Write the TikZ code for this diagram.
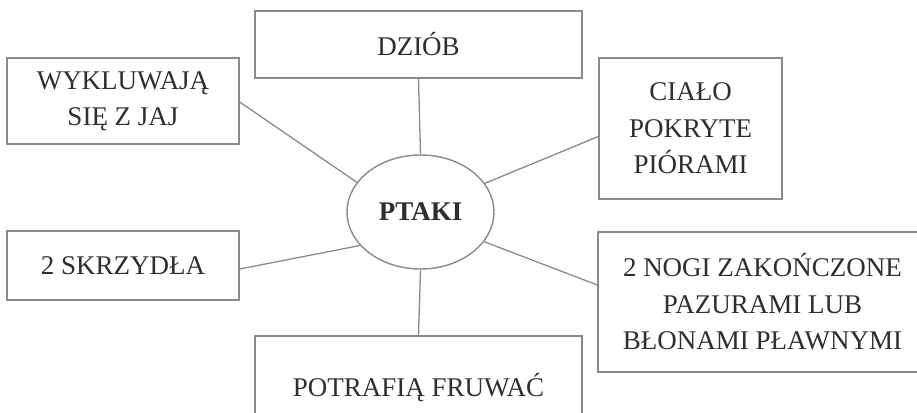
\documentclass[tikz,border=0pt]{standalone}
\usepackage{fontspec}
\setmainfont{Liberation Serif}
\usetikzlibrary{shapes.geometric}
\definecolor{linegray}{HTML}{8A8A8A}
\definecolor{textgray}{HTML}{2E2E2E}
\tikzset{
  box/.style={draw=linegray, line width=1.4pt, rectangle, align=center,
    font=\fontsize{27}{36.5}\selectfont, text=textgray, inner sep=0pt},
  hub/.style={draw=linegray, line width=1.4pt, ellipse, inner sep=0pt,
    font=\fontsize{27}{36.5}\selectfont\bfseries, text=textgray},
  conn/.style={draw=linegray, line width=1.3pt}
}
\begin{document}
\begin{tikzpicture}[x=1pt,y=-1pt]
\useasboundingbox (0,0) rectangle (917,412);
\clip (0,0) rectangle (917,412);
\fill[white] (0,0) rectangle (917,412);
\node[hub, minimum width=147pt, minimum height=114pt] (ptaki) at (420.5,212) {PTAKI};
\node[box, minimum width=327pt, minimum height=67pt] (dziob) at (418.5,44.5) {DZIÓB};
\node[box, minimum width=232pt, minimum height=86pt] (wyklu) at (123,101) {WYKLUWAJĄ\\SIĘ Z JAJ};
\node[box, minimum width=183pt, minimum height=141pt] (cialo) at (690.5,128.5) {CIAŁO\\POKRYTE\\PIÓRAMI};
\node[box, minimum width=232pt, minimum height=69pt] (skrz) at (123,265.5) {2 SKRZYDŁA};
\node[box, minimum width=327pt, minimum height=104pt] (potraf) at (418.5,388) {POTRAFIĄ FRUWAĆ};
\node[box, minimum width=329pt, minimum height=140pt] (nogi) at (762.5,302) {2 NOGI ZAKOŃCZONE\\PAZURAMI LUB\\BŁONAMI PŁAWNYMI};
\draw[conn] (dziob.south) -- (ptaki.north);
\draw[conn] ([yshift=-1pt]wyklu.east) -- (ptaki.155);
\draw[conn] ([yshift=-8pt]cialo.west) -- (ptaki.24);
\draw[conn] ([yshift=-3.5pt]skrz.east) -- (ptaki.209);
\draw[conn] ([yshift=17pt]nogi.west) -- (ptaki.335);
\draw[conn] (potraf.north) -- (ptaki.south);
\end{tikzpicture}
\end{document}
